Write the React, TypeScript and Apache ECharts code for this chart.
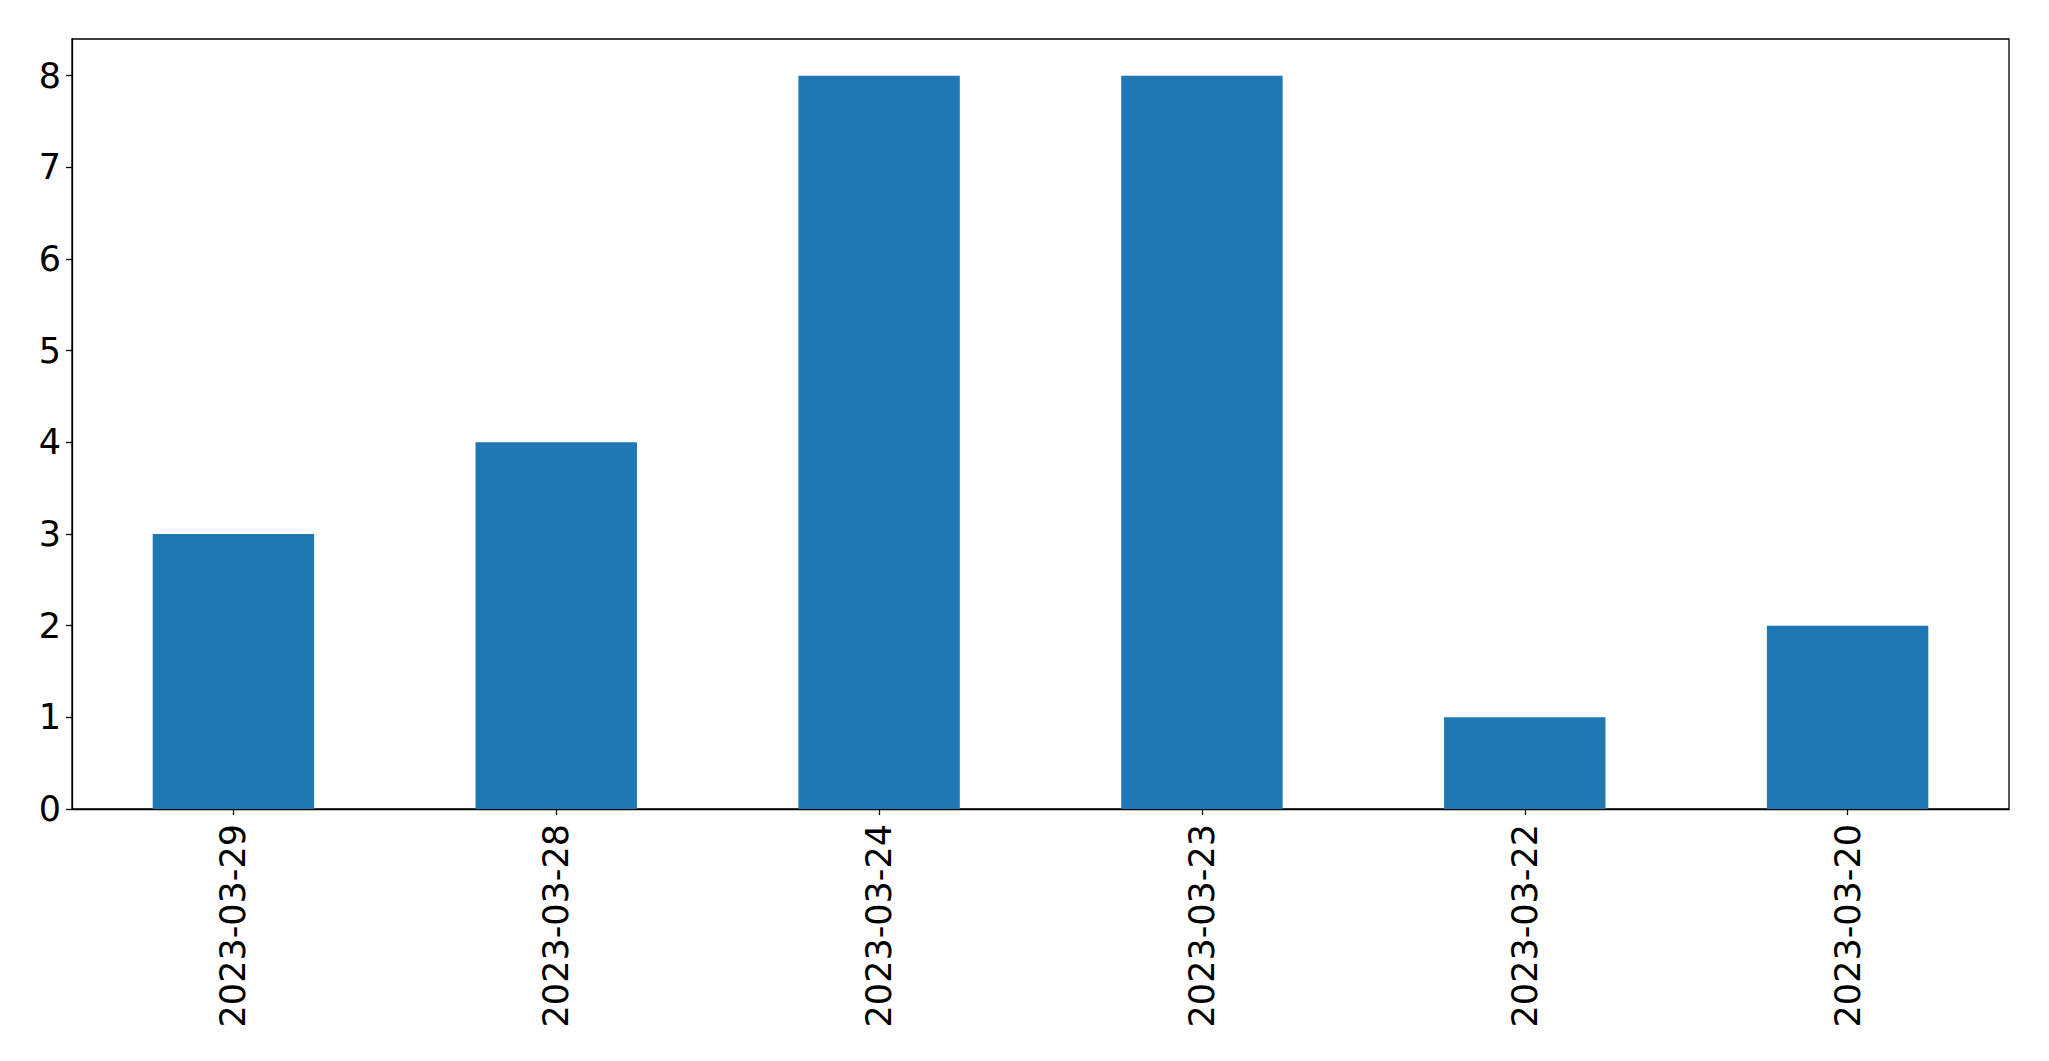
import React, { useEffect, useRef } from "react";
import * as echarts from "echarts";

const categories = ["2023-03-29", "2023-03-28", "2023-03-24", "2023-03-23", "2023-03-22", "2023-03-20"];
const values = [3, 4, 8, 8, 1, 2];
const yTicks = [0, 1, 2, 3, 4, 5, 6, 7, 8];

export default function App() {
  const ref = useRef<HTMLDivElement>(null);
  useEffect(() => {
    if (!ref.current) return;
    const chart = echarts.init(ref.current, undefined, { renderer: "svg" });
    const font = { fontFamily: "DejaVu Sans", fontSize: 35, color: "#000" };
    chart.setOption({
      animation: false,
      backgroundColor: "#fff",
      grid: {
        left: 72,
        top: 39,
        right: 40,
        bottom: 252,
        show: true,
        borderColor: "#000",
        borderWidth: 1.3,
        backgroundColor: "transparent",
      },
      xAxis: {
        type: "category",
        data: categories,
        axisLine: { show: true, lineStyle: { color: "#000", width: 1.3 } },
        axisTick: { show: true, alignWithLabel: true, length: 6, lineStyle: { color: "#000", width: 1.3 } },
        axisLabel: { ...font, rotate: 90, margin: 15, interval: 0 },
        splitLine: { show: false },
      },
      yAxis: {
        type: "value",
        min: 0,
        max: 8.4,
        interval: 1,
        axisLine: { show: true, lineStyle: { color: "#000", width: 1.3 } },
        axisTick: { show: true, length: 6, lineStyle: { color: "#000", width: 1.3 }, customValues: yTicks },
        axisLabel: { ...font, margin: 11, customValues: yTicks },
        splitLine: { show: false },
      },
      series: [
        {
          type: "bar",
          data: values,
          barWidth: "50%",
          itemStyle: { color: "#1f77b4" },
        },
      ],
    });
    return () => chart.dispose();
  }, []);
  return (
    <div
      ref={ref}
      style={{ position: "fixed", left: 0, top: 0, width: 2049, height: 1061, background: "#fff" }}
    />
  );
}
